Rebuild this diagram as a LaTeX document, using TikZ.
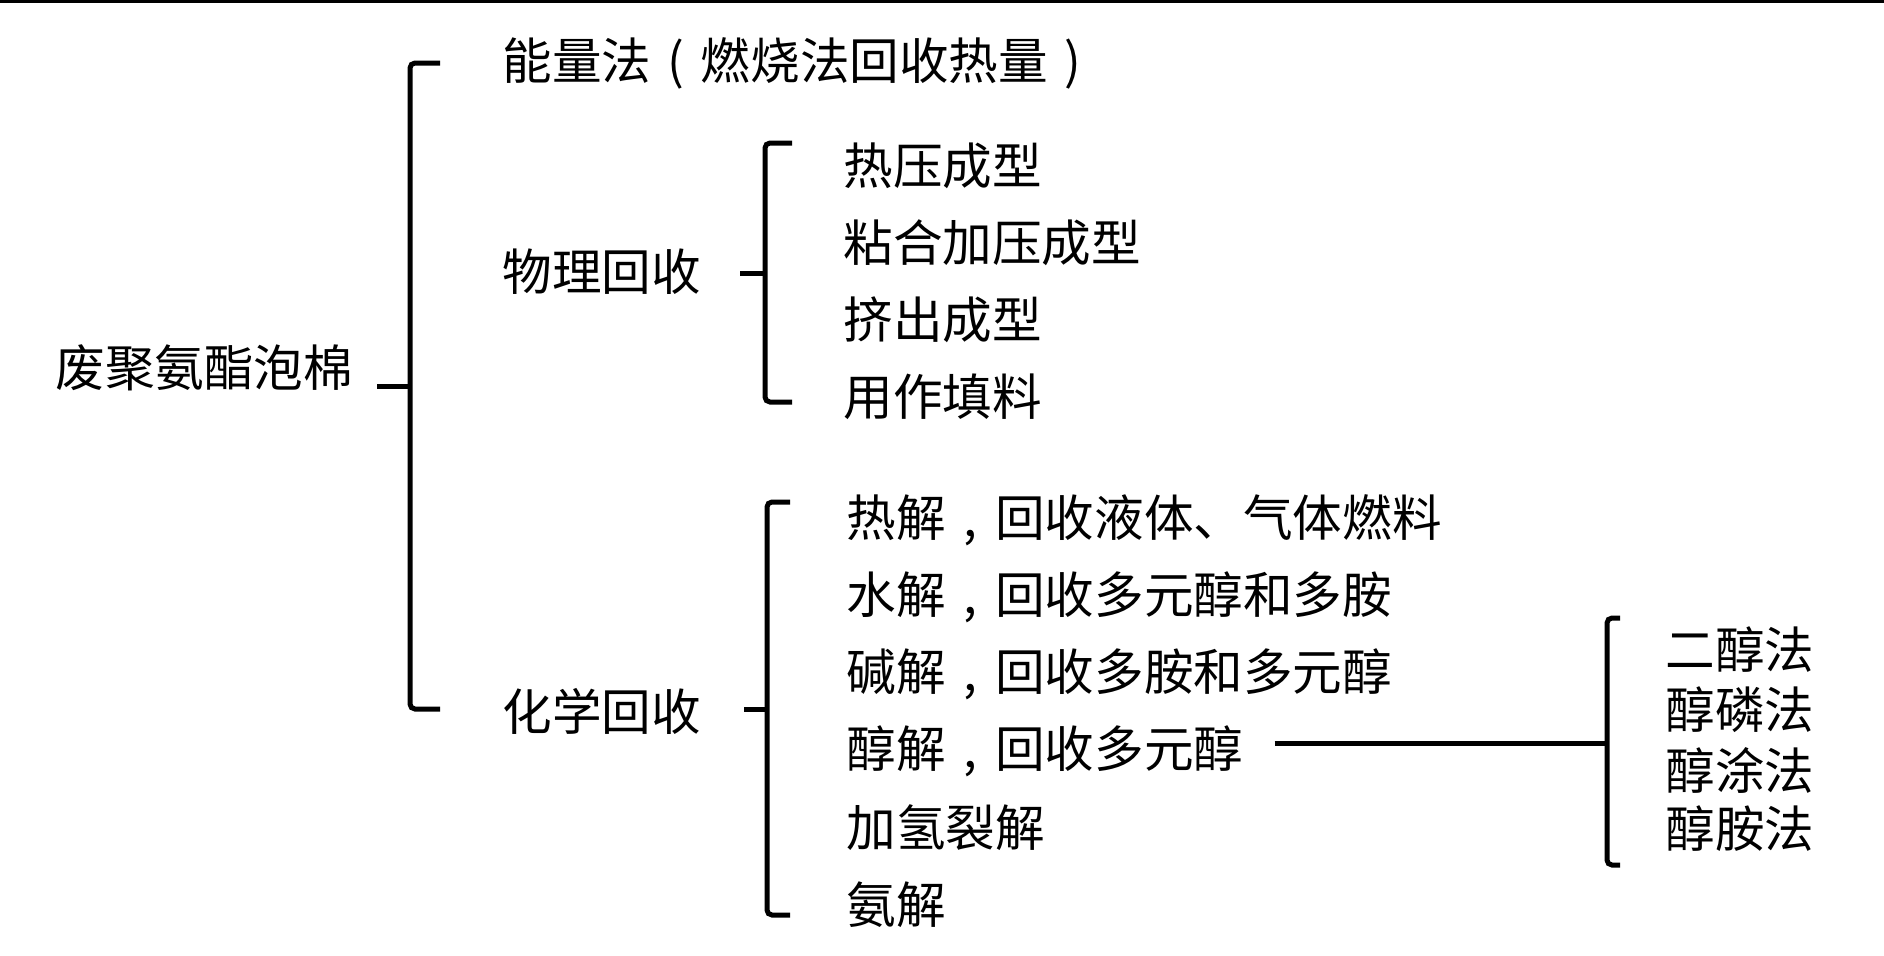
\documentclass[tikz,border=0pt]{standalone}
\usepackage{fontspec}
\setmainfont{Noto Sans CJK SC}
\usetikzlibrary{positioning}

% punctuation set in the middle of a full em
\newcommand{\wbox}[1]{\makebox[1em][c]{#1}}

\begin{document}
\begin{tikzpicture}[
    x=0.5pt, y=-0.5pt,
    item/.style={anchor=west, inner sep=0pt, font=\fontsize{24.8pt}{29pt}\selectfont},
    brace/.style={line width=2.5pt, rounded corners=2.5pt}
]
\useasboundingbox (0,0) rectangle (1884,955);

% top rule
\draw[line width=1.5pt] (0,1.5) -- (1884,1.5);

% Nodes
\node[item] (root) at (55,368) {废聚氨酯泡棉};
\node[item] (energy) at (502,63) {能量法\wbox{(}燃烧法回收热量\wbox{)}};
\node[item] (phys) at (502,272) {物理回收};
\node[item] (chem) at (502,711) {化学回收};

\node[item] (p1) at (843,166) {热压成型};
\node[item] (p2) at (843,243) {粘合加压成型};
\node[item] (p3) at (843,320) {挤出成型};
\node[item] (p4) at (843,397) {用作填料};

\node[item] (c1) at (846,520) {热解\wbox{,}回收液体、气体燃料};
\node[item] (c2) at (846,597) {水解\wbox{,}回收多元醇和多胺};
\node[item] (c3) at (846,674) {碱解\wbox{,}回收多胺和多元醇};
\node[item] (alc) at (846,751) {醇解\wbox{,}回收多元醇};
\node[item] (c5) at (846,828) {加氢裂解};
\node[item] (c6) at (846,905) {氨解};

\node[item] (s1) at (1665,650) {二醇法};
\node[item] (s2) at (1665,710) {醇磷法};
\node[item] (s3) at (1665,770) {醇涂法};
\node[item] (s4) at (1665,829) {醇胺法};

% Braces
\coordinate (rootTip) at (377,386);
\coordinate (physTip) at (740,273);
\coordinate (chemTip) at (744,709);
\coordinate (subTip) at (1607,743);

\draw[brace] (440,63) -- (410,63) -- (410,709) -- (440,709);
\draw[brace] (rootTip) -- (410,386);

\draw[brace] (792,143) -- (765,143) -- (765,402) -- (792,402);
\draw[brace] (physTip) -- (765,273);

\draw[brace] (790,502) -- (767,502) -- (767,915) -- (790,915);
\draw[brace] (chemTip) -- (767,709);

\draw[brace] (1620,618) -- (1607,618) -- (1607,865) -- (1620,865);
\draw[brace] (alc.east |- subTip) ++(15.5pt,0) -- (subTip);

\end{tikzpicture}
\end{document}
